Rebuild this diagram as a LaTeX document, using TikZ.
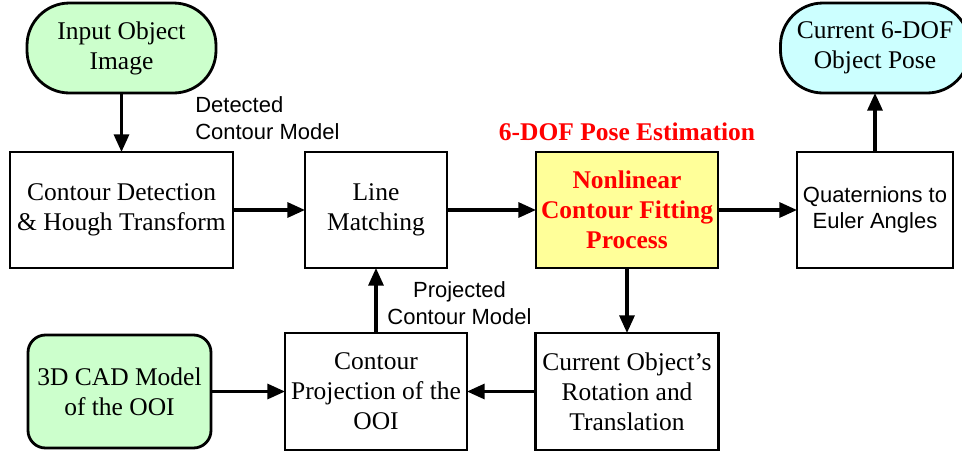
\documentclass[tikz,border=0pt]{standalone}
\usepackage{fontspec}
\setmainfont{Liberation Serif}
\setsansfont{Liberation Sans}
\usetikzlibrary{arrows.meta, positioning}

\definecolor{termgreen}{HTML}{CCFFCC}
\definecolor{termcyan}{HTML}{CCFFFF}
\definecolor{fityellow}{HTML}{FFFF99}

\begin{document}
\begin{tikzpicture}[
    font=\fontsize{14.5}{17}\selectfont,
    process/.style={rectangle, draw=black, line width=1.6pt, minimum height=2.32cm, text centered, align=center, inner sep=2pt, outer sep=0pt},
    terminal/.style={rectangle, rounded corners=0.85cm, draw=black, line width=1.6pt, minimum width=3.78cm, minimum height=1.8cm, text centered, align=center, outer sep=0pt},
    model/.style={rectangle, rounded corners=0.35cm, draw=black, line width=1.6pt, fill=termgreen, minimum width=3.66cm, minimum height=2.26cm, text centered, align=center, outer sep=0pt},
    tag/.style={font=\sffamily\fontsize{12.5}{15.5}\selectfont, inner sep=0pt},
    arrow/.style={line width=1.8pt, -{Triangle[length=10pt, width=8.5pt]}},
]

    \useasboundingbox (0,0) rectangle (19.24,-9.08);

    \node (detect) [process, minimum width=4.46cm] at (2.43,-4.2) {Contour Detection\\\& Hough Transform};
    \node (match) [process, minimum width=2.84cm, right=1.44cm of detect] {Line\\Matching};
    \node (fit) [process, minimum width=3.64cm, fill=fityellow, right=1.78cm of match, text=red, font=\bfseries\fontsize{14.5}{17}\selectfont] {Nonlinear\\Contour Fitting\\Process};
    \node (quat) [process, minimum width=3.12cm, right=1.58cm of fit, font=\sffamily\fontsize{12.5}{15}\selectfont] {Quaternions to\\Euler Angles};

    \node (input) [terminal, fill=termgreen, above=1.18cm of detect] {Input Object\\Image};
    \node (pose) [terminal, fill=termcyan, above=1.18cm of quat] {Current 6-DOF\\Object Pose};
    \node (title) [above=0.22cm of fit, inner sep=0pt, text=red, font=\bfseries\fontsize{14.5}{17}\selectfont] {6-DOF Pose Estimation};

    \node (proj) [process, minimum width=3.64cm, minimum height=2.34cm, below=1.3cm of match] {Contour\\Projection of the\\OOI};
    \node (rot) [process, minimum width=3.66cm, minimum height=2.34cm, below=1.3cm of fit] {Current Object's\\Rotation and\\Translation};
    \node (cad) [model, left=1.48cm of proj] {3D CAD Model\\of the OOI};

    \node (detected) [tag, anchor=west, align=left] at (3.9,-2.36) {Detected\\Contour Model};
    \node (projected) [tag, align=center] at (9.19,-6.06) {Projected\\Contour Model};

    \draw [arrow] (input) -- (detect);
    \draw [arrow] (detect) -- (match);
    \draw [arrow] (match) -- (fit);
    \draw [arrow] (fit) -- (quat);
    \draw [arrow] (quat) -- (pose);
    \draw [arrow] (fit) -- (rot);
    \draw [arrow] (rot) -- (proj);
    \draw [arrow] (cad) -- (proj);
    \draw [arrow] (proj) -- (match);

\end{tikzpicture}
\end{document}
